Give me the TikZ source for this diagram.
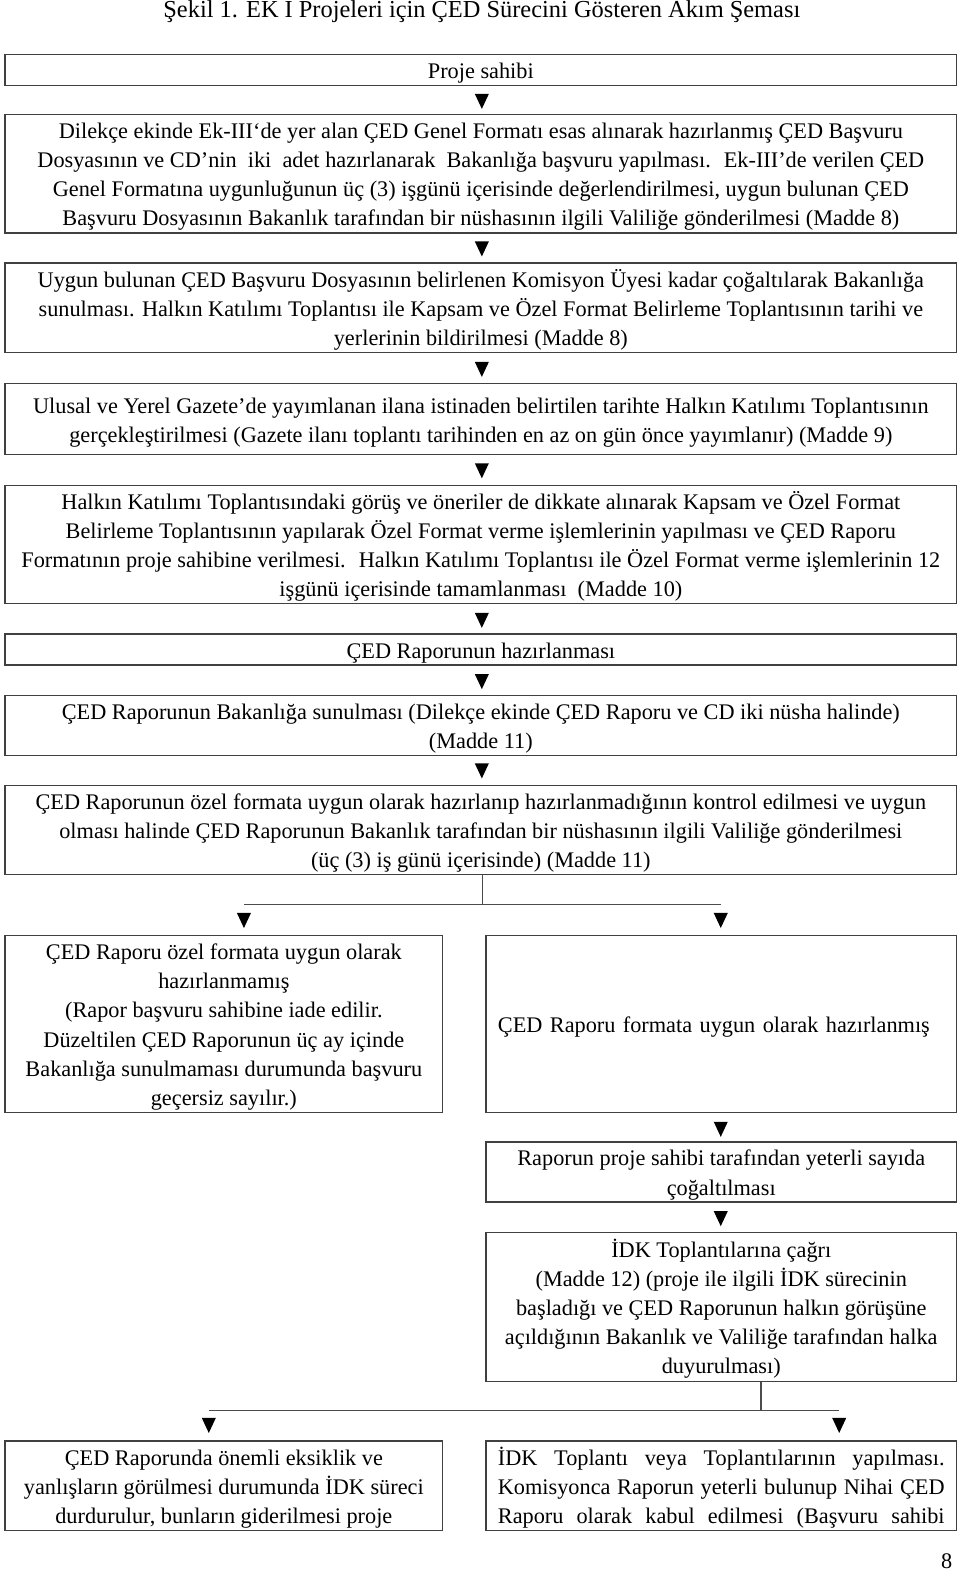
\documentclass[tikz,border=0pt]{standalone}
\usepackage{fontspec}
\setmainfont{Liberation Serif}
\newcommand\bstart{\rule{0pt}{24pt}}
\newcommand\bfin{\rule[-7pt]{0pt}{0pt}}
\begin{document}
\begin{tikzpicture}[x=1pt,y=-1pt,
  every node/.style={font={\fontsize{22.2}{29}\selectfont}, inner sep=0pt},
  box/.style={draw=black!75, line width=1.3pt, align=center},
  conn/.style={draw=black!70, line width=1.2pt},
  downtri/.pic={\fill[black] (-7,-7.5) -- (7,-7.5) -- (0,7.5) -- cycle;}]
\useasboundingbox (0,0) rectangle (956,1568);

\node[font={\fontsize{24.3}{29}\selectfont}] (title) at (480,12) {Şekil 1. EK I Projeleri için ÇED Sürecini Gösteren Akım Şeması};

\node[box, minimum width=948pt, minimum height=30pt] (b1) at (479,70) {\bstart Proje sahibi\bfin};
\pic at (480,101) {downtri};
\node[box, minimum width=948pt, minimum height=118pt] (b2) at (479,173) {\bstart Dilekçe ekinde Ek-III‘de yer alan ÇED Genel Formatı esas alınarak hazırlanmış ÇED Başvuru\\
Dosyasının ve CD’nin~ iki~ adet hazırlanarak~ Bakanlığa başvuru yapılması.~ Ek-III’de verilen ÇED\\
Genel Formatına uygunluğunun üç (3) işgünü içerisinde değerlendirilmesi, uygun bulunan ÇED\\
Başvuru Dosyasının Bakanlık tarafından bir nüshasının ilgili Valiliğe gönderilmesi (Madde 8)\bfin};
\pic at (480,248) {downtri};
\node[box, minimum width=948pt, minimum height=89pt] (b3) at (479,306.5) {\bstart Uygun bulunan ÇED Başvuru Dosyasının belirlenen Komisyon Üyesi kadar çoğaltılarak Bakanlığa\\
sunulması. Halkın Katılımı Toplantısı ile Kapsam ve Özel Format Belirleme Toplantısının tarihi ve\\
yerlerinin bildirilmesi (Madde 8)\bfin};
\pic at (480,368) {downtri};
\node[box, minimum width=948pt, minimum height=71pt] (b4) at (479,417.5) {\bstart Ulusal ve Yerel Gazete’de yayımlanan ilana istinaden belirtilen tarihte Halkın Katılımı Toplantısının\\
gerçekleştirilmesi (Gazete ilanı toplantı tarihinden en az on gün önce yayımlanır) (Madde 9)\bfin};
\pic at (480,469) {downtri};
\node[box, minimum width=948pt, minimum height=117pt] (b5) at (479,542.5) {\bstart Halkın Katılımı Toplantısındaki görüş ve öneriler de dikkate alınarak Kapsam ve Özel Format\\
Belirleme Toplantısının yapılarak Özel Format verme işlemlerinin yapılması ve ÇED Raporu\\
Formatının proje sahibine verilmesi.~ Halkın Katılımı Toplantısı ile Özel Format verme işlemlerinin 12\\
işgünü içerisinde tamamlanması~ (Madde 10)\bfin};
\pic at (480,618) {downtri};
\node[box, minimum width=948pt, minimum height=30pt] (b6) at (479,647) {\bstart ÇED Raporunun hazırlanması\bfin};
\pic at (480,679) {downtri};
\node[box, minimum width=948pt, minimum height=59pt] (b7) at (479,722.5) {\bstart ÇED Raporunun Bakanlığa sunulması (Dilekçe ekinde ÇED Raporu ve CD iki nüsha halinde)\\
(Madde 11)\bfin};
\pic at (480,768) {downtri};
\node[box, minimum width=948pt, minimum height=88pt] (b8) at (479,827) {\bstart ÇED Raporunun özel formata uygun olarak hazırlanıp hazırlanmadığının kontrol edilmesi ve uygun\\
olması halinde ÇED Raporunun Bakanlık tarafından bir nüshasının ilgili Valiliğe gönderilmesi\\
(üç (3) iş günü içerisinde) (Madde 11)\bfin};

\coordinate (j1) at (481,901);
\coordinate (j1l) at (243,901);
\coordinate (j1r) at (718,901);
\draw[conn] (b8.south -| j1) -- (j1);
\draw[conn] (j1l) -- (j1r);
\pic at (243,917) {downtri};
\pic at (718,917) {downtri};

\node[box, minimum width=436pt, minimum height=176pt] (b9) at (223,1020) {\bstart ÇED Raporu özel formata uygun olarak\\
hazırlanmamış\\
(Rapor başvuru sahibine iade edilir.\\
Düzeltilen ÇED Raporunun üç ay içinde\\
Bakanlığa sunulmaması durumunda başvuru\\
geçersiz sayılır.)\bfin};
\node[box, minimum width=469pt, minimum height=176pt, text width=445pt, align=left] (b10) at (718.5,1020) {\bstart ÇED Raporu formata uygun olarak hazırlanmış\bfin};

\pic at (718,1125) {downtri};
\node[box, minimum width=469pt, minimum height=59pt] (b11) at (718.5,1167.5) {\bstart Raporun proje sahibi tarafından yeterli sayıda\\
çoğaltılması\bfin};
\pic at (718,1214) {downtri};
\node[box, minimum width=469pt, minimum height=148pt] (b12) at (718.5,1302) {\bstart İDK Toplantılarına çağrı\\
(Madde 12) (proje ile ilgili İDK sürecinin\\
başladığı ve ÇED Raporunun halkın görüşüne\\
açıldığının Bakanlık ve Valiliğe tarafından halka\\
duyurulması)\bfin};

\coordinate (j2) at (758,1405);
\coordinate (j2l) at (208,1405);
\coordinate (j2r) at (836,1405);
\draw[conn] (b12.south -| j2) -- (j2);
\draw[conn] (j2l) -- (j2r);
\pic at (208,1420) {downtri};
\pic at (836,1420) {downtri};

\node[box, minimum width=436pt, minimum height=88pt] (b13) at (223,1480) {\bstart ÇED Raporunda önemli eksiklik ve\\
yanlışların görülmesi durumunda İDK süreci\\
durdurulur, bunların giderilmesi proje\bfin};
\node[box, minimum width=469pt, minimum height=88pt, align=left] (b14) at (718.5,1480) {\bstart\makebox[445pt][s]{İDK Toplantı veya Toplantılarının yapılması.}\\
\makebox[445pt][s]{Komisyonca Raporun yeterli bulunup Nihai ÇED}\\
\makebox[445pt][s]{Raporu olarak kabul edilmesi (Başvuru sahibi}\bfin};

\node (pg) at (943,1555) {8};
\end{tikzpicture}
\end{document}
